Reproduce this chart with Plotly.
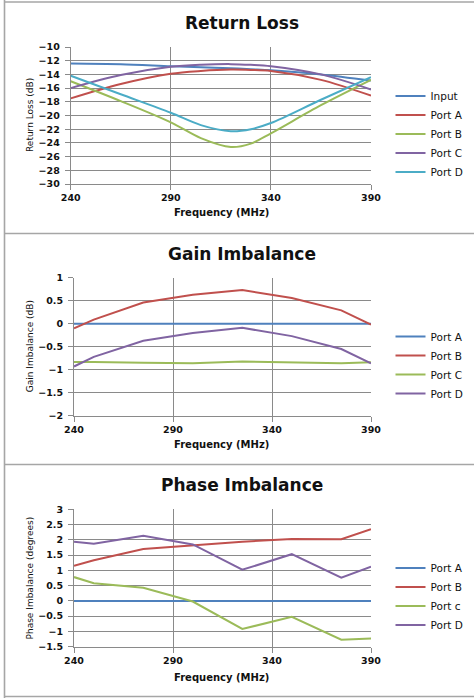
import plotly.graph_objects as go

W, H = 474, 698

# ---------------- data ----------------
rl_freq = [240, 265, 290, 305, 320, 330, 340, 365, 390]
rl_input = [-12.4, -12.5, -12.8, -12.95, -13.1, -13.25, -13.4, -14.0, -14.9]
rl_port_a = [-17.5, -15.4, -13.9, -13.5, -13.3, -13.35, -13.5, -14.8, -17.1]
rl_port_b = [-15.0, -17.9, -21.0, -23.3, -24.6, -24.1, -22.6, -18.5, -14.8]
rl_port_c = [-16.0, -14.1, -12.9, -12.6, -12.5, -12.6, -12.8, -14.0, -16.2]
rl_port_d = [-14.2, -16.9, -19.6, -21.4, -22.3, -22.0, -21.1, -17.7, -14.4]

gi_freq = [240, 250, 275, 300, 325, 350, 375, 390]
gi_port_a = [0, 0, 0, 0, 0, 0, 0, 0]
gi_port_b = [-0.10, 0.09, 0.46, 0.63, 0.73, 0.56, 0.29, -0.02]
gi_port_c = [-0.83, -0.83, -0.85, -0.86, -0.82, -0.84, -0.86, -0.84]
gi_port_d = [-0.93, -0.72, -0.37, -0.20, -0.09, -0.27, -0.55, -0.86]

pi_freq = [240, 250, 275, 300, 325, 350, 375, 390]
pi_port_a = [0, 0, 0, 0, 0, 0, 0, 0]
pi_port_b = [1.15, 1.33, 1.70, 1.83, 1.94, 2.03, 2.02, 2.35]
pi_port_c = [0.78, 0.58, 0.43, -0.02, -0.92, -0.52, -1.27, -1.23]
pi_port_d = [1.94, 1.87, 2.13, 1.85, 1.02, 1.53, 0.76, 1.12]

x_ticks = [240, 290, 340, 390]

BLUE, RED, GREEN, PURPLE, AQUA = "#4F81BD", "#C0504D", "#9BBB59", "#8064A2", "#4BACC6"
GRID = "#8a8a8a"
FONT = "DejaVu Sans"

def px_x(p):
    return p / W

def px_y(p):
    return 1 - p / H

fig = go.Figure()

# chart 1 - return loss (smoothed lines)
rl_series = [("Input", rl_input, BLUE), ("Port A", rl_port_a, RED), ("Port B", rl_port_b, GREEN),
             ("Port C", rl_port_c, PURPLE), ("Port D", rl_port_d, AQUA)]
for name, vals, col in rl_series:
    fig.add_trace(go.Scatter(x=rl_freq, y=vals, name=name, mode="lines",
                             line=dict(color=col, width=2, shape="spline", smoothing=0.9),
                             xaxis="x", yaxis="y", legend="legend"))

gi_series = [("Port A", gi_port_a, BLUE), ("Port B", gi_port_b, RED),
             ("Port C", gi_port_c, GREEN), ("Port D", gi_port_d, PURPLE)]
for name, vals, col in gi_series:
    fig.add_trace(go.Scatter(x=gi_freq, y=vals, name=name, mode="lines",
                             line=dict(color=col, width=2),
                             xaxis="x2", yaxis="y2", legend="legend2"))

pi_series = [("Port A", pi_port_a, BLUE), ("Port B", pi_port_b, RED),
             ("Port c", pi_port_c, GREEN), ("Port D", pi_port_d, PURPLE)]
for name, vals, col in pi_series:
    fig.add_trace(go.Scatter(x=pi_freq, y=vals, name=name, mode="lines",
                             line=dict(color=col, width=2),
                             xaxis="x3", yaxis="y3", legend="legend3"))

def xaxis(dom, anchor):
    return dict(domain=dom, anchor=anchor, range=[240, 390], tickvals=x_ticks,
                showgrid=True, gridcolor=GRID, gridwidth=1, showline=True, linecolor=GRID,
                linewidth=1, ticks="outside", ticklen=5, tickcolor=GRID, zeroline=False,
                automargin=False,
                tickfont=dict(family=FONT, size=9.5, color="#111111", weight="bold"))

def yaxis(dom, anchor, rng, dtick):
    return dict(domain=dom, anchor=anchor, range=rng, dtick=dtick, tick0=rng[0],
                showgrid=True, gridcolor=GRID, gridwidth=1, showline=True, linecolor=GRID,
                linewidth=1, ticks="outside", ticklen=5, tickcolor=GRID, zeroline=False,
                mirror=False, ticklabelstandoff=3, automargin=False,
                tickfont=dict(family=FONT, size=9.5, color="#111111", weight="bold"))

# plot area pixel boxes
p1 = (70.7, 371, 47, 184)
p2 = (74, 371, 277.7, 415.7)
p3 = (74, 371, 509.3, 646.7)

def dx(p):
    return [px_x(p[0]), px_x(p[1])]

def dy(p):
    return [px_y(p[3]), px_y(p[2])]

legend_common = dict(font=dict(family=FONT, size=10.5, color="#111111"), bgcolor="rgba(0,0,0,0)",
                     itemwidth=30, xanchor="left", yanchor="top", tracegroupgap=0,
                     itemclick=False, itemdoubleclick=False)

fig.update_layout(
    width=W, height=H, margin=dict(l=0, r=0, t=0, b=0, autoexpand=False),
    paper_bgcolor="white", plot_bgcolor="white",
    font=dict(family=FONT, color="#111111"),
    xaxis=xaxis(dx(p1), "y"), yaxis=yaxis(dy(p1), "x", [-30, -10], 2),
    xaxis2=xaxis(dx(p2), "y2"), yaxis2=yaxis(dy(p2), "x2", [-2, 1], 0.5),
    xaxis3=xaxis(dx(p3), "y3"), yaxis3=yaxis(dy(p3), "x3", [-1.5, 3], 0.5),
    legend=dict(x=px_x(390.5), y=px_y(81.5), **legend_common),
    legend2=dict(x=px_x(390.5), y=px_y(322), **legend_common),
    legend3=dict(x=px_x(390.5), y=px_y(553.5), **legend_common),
    showlegend=True,
)

# titles and axis titles as annotations
ann = []
titles = [("Return Loss", 22.7), ("Gain Imbalance", 254), ("Phase Imbalance", 485)]
for t, yc in titles:
    ann.append(dict(text=t, x=px_x(241.5), y=px_y(yc), xref="paper", yref="paper",
                    showarrow=False, xanchor="center", yanchor="middle",
                    font=dict(family=FONT, size=17, color="#111111", weight="bold")))
for yc in (213, 445, 677):
    ann.append(dict(text="Frequency (MHz)", x=px_x(221), y=px_y(yc), xref="paper", yref="paper",
                    showarrow=False, xanchor="center", yanchor="middle",
                    font=dict(family=FONT, size=10, color="#111111", weight="bold")))
ytitles = [("Return Loss (dB)", 115.5), ("Gain Imbalance (dB)", 346.7), ("Phase Imbalance (degrees)", 578)]
for t, yc in ytitles:
    ann.append(dict(text=t, x=px_x(29.5), y=px_y(yc), xref="paper", yref="paper",
                    showarrow=False, xanchor="center", yanchor="middle", textangle=-90,
                    font=dict(family=FONT, size=9, color="#111111")))
fig.update_layout(annotations=ann)

# frame lines (chart borders)
shapes = []
BORDER = "#a6a6a6"
for yy in (2, 233.5, 464.5, 696.5):
    shapes.append(dict(type="line", xref="paper", yref="paper", x0=px_x(4.5), x1=1.0,
                       y0=px_y(yy), y1=px_y(yy), line=dict(color=BORDER, width=1.6)))
shapes.append(dict(type="line", xref="paper", yref="paper", x0=px_x(4.5), x1=px_x(4.5),
                   y0=0, y1=1, line=dict(color=BORDER, width=1.6)))
fig.update_layout(shapes=shapes)

fig.write_html("out.html", config={"displayModeBar": False, "staticPlot": True},
               post_script="document.body.style.margin='0';document.body.style.overflow='hidden';")
